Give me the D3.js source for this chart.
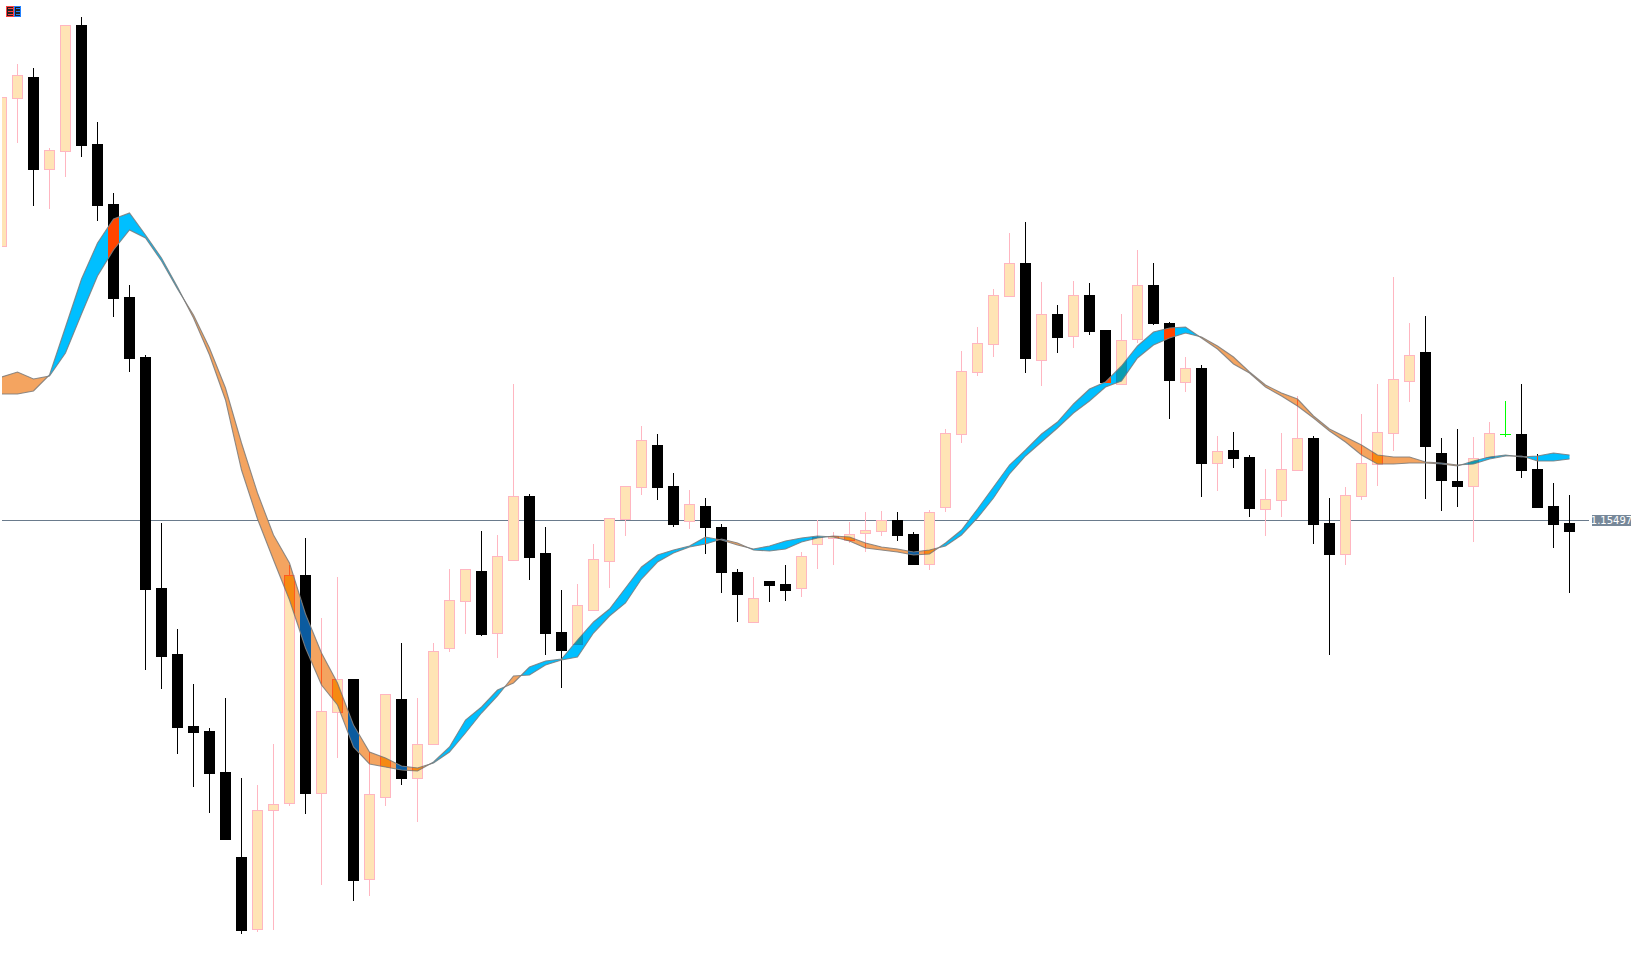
<!DOCTYPE html>
<html><head><meta charset="utf-8">
<script src="https://cdn.jsdelivr.net/npm/d3@7/dist/d3.min.js"></script>
<style>html,body{margin:0;padding:0;background:#fff;overflow:hidden}svg{display:block}</style>
</head><body><div id="chart"></div>
<script>
// Prices in points (1 point = 0.00001)
const open=[115770,115918,115940,115847,115865,115992,115873,115813,115720,115660,115429,115363,115291,115286,115245,115160,115087,115206,115213,115442,115223,115304,115338,115137,115219,115318,115238,115272,115368,115415,115446,115383,115456,115521,115464,115385,115372,115406,115455,115497,115529,115572,115531,115495,115511,115490,115445,115394,115436,115433,115428,115472,115478,115476,115483,115485,115497,115483,115452,115509,115582,115644,115672,115720,115754,115656,115703,115680,115722,115687,115632,115677,115732,115694,115634,115649,115553,115567,115560,115507,115516,115546,115579,115494,115462,115520,115552,115583,115635,115665,115564,115536,115530,115559,115583,115583,115548,115511,115494];
const high=[115920,115953,115949,115869,115992,116000,115895,115824,115732,115662,115494,115388,115333,115289,115319,115239,115232,115273,115452,115479,115399,115440,115338,115265,115323,115374,115319,115374,115448,115448,115486,115482,115633,115523,115490,115427,115433,115473,115499,115531,115591,115583,115544,115527,115519,115493,115448,115440,115436,115452,115465,115497,115485,115495,115505,115506,115505,115485,115507,115588,115666,115690,115728,115784,115795,115735,115712,115736,115734,115687,115703,115767,115754,115695,115660,115652,115581,115585,115562,115548,115584,115621,115581,115519,115530,115603,115633,115740,115694,115701,115579,115588,115580,115595,115616,115633,115563,115534,115522];
const low=[115770,115874,115811,115808,115840,115860,115796,115700,115645,115347,115328,115263,115230,115204,115177,115083,115085,115087,115211,115203,115132,115259,115116,115121,115211,115232,115195,115272,115365,115383,115381,115359,115456,115437,115362,115329,115372,115406,115429,115481,115522,115517,115490,115488,115463,115424,115395,115394,115415,115416,115420,115448,115452,115474,115465,115481,115476,115452,115447,115505,115574,115641,115660,115720,115644,115631,115664,115669,115682,115634,115632,115674,115692,115598,115625,115520,115526,115549,115500,115481,115500,115546,115473,115362,115452,115517,115531,115566,115615,115518,115506,115510,115475,115559,115580,115539,115509,115469,115424];
const close=[115920,115942,115847,115867,115992,115871,115811,115718,115658,115427,115360,115289,115284,115243,115177,115086,115207,115213,115442,115223,115306,115338,115136,115223,115323,115238,115273,115366,115417,115448,115382,115461,115521,115459,115383,115366,115412,115458,115499,115531,115577,115529,115492,115513,115489,115444,115422,115419,115431,115426,115461,115480,115481,115483,115487,115497,115481,115452,115505,115584,115646,115674,115722,115754,115658,115703,115679,115722,115685,115634,115677,115732,115693,115636,115649,115553,115566,115558,115508,115518,115548,115579,115492,115462,115522,115554,115585,115638,115662,115570,115536,115530,115559,115584,115583,115546,115509,115492,115485];
const maFast=[115623,115623,115626,115642,115690,115738,115774,115798,115804,115782,115759,115730,115699,115662,115617,115547,115498,115457,115417,115369,115332,115312,115270,115253,115250,115247,115246,115255,115270,115297,115310,115327,115334,115350,115356,115358,115377,115395,115408,115429,115450,115462,115467,115471,115480,115477,115472,115468,115471,115476,115479,115481,115480,115476,115469,115467,115465,115462,115463,115474,115487,115508,115530,115552,115567,115583,115595,115613,115628,115635,115651,115671,115685,115689,115690,115679,115668,115653,115644,115630,115621,115611,115599,115586,115575,115562,115553,115553,115554,115554,115553,115551,115556,115560,115562,115560,115561,115564,115562];
const maSlow=[115640,115645,115638,115641,115664,115703,115741,115767,115787,115779,115756,115728,115702,115669,115629,115574,115524,115482,115454,115403,115364,115334,115292,115265,115259,115251,115249,115254,115265,115284,115304,115321,115341,115342,115352,115357,115360,115384,115401,115414,115438,115455,115464,115470,115473,115478,115474,115467,115466,115468,115475,115479,115481,115480,115474,115470,115468,115465,115467,115471,115482,115499,115519,115543,115561,115575,115589,115604,115616,115630,115636,115659,115672,115679,115684,115680,115671,115660,115645,115632,115624,115618,115601,115588,115580,115572,115562,115560,115560,115555,115554,115552,115553,115558,115561,115561,115556,115556,115558];
const lastPrice=115497;
const priceTop=116017, priceBottom=115064;

const W=1633,H=953;
const colors={up:"#00BFFF",down:"#F4A460"};
const overlay={
  bear:{up:"#FF4500",down:"#0B5B9F"},
  fill:{up:"#0A9CB0",down:"#F58A12"},
  edge:{up:"#0A8CC4",down:"#FF5A1F"}
};
const bull="#FFE4B5",bullEdge="#FFB6C1",bear="#000",doji="#00FF00",lineCol="#6A7B8C",labelCol="#778899";

const idx=d3.range(open.length);
const x=d3.scaleLinear().domain([0,98]).range([1.5,1569.5]);
const y=d3.scaleLinear().domain([priceTop,priceBottom]).range([0,H]);
const py=v=>Math.round(y(v));

const svg=d3.select("#chart").append("svg").attr("width",W).attr("height",H).attr("viewBox",`0 0 ${W} ${H}`);
const defs=svg.append("defs");
defs.append("clipPath").attr("id","plot").append("rect").attr("x",2).attr("y",0).attr("width",W-2).attr("height",H);
const cBear=defs.append("clipPath").attr("id","cBear");
const cFill=defs.append("clipPath").attr("id","cFill");
const cEdge=defs.append("clipPath").attr("id","cEdge");

const plot=svg.append("g").attr("clip-path","url(#plot)");
// last price line
plot.append("rect").attr("x",2).attr("y",py(lastPrice)).attr("width",1587).attr("height",1).attr("fill",lineCol);

const candles=plot.append("g").attr("shape-rendering","crispEdges");
function addRect(sel,a,b,c,d){sel.append("rect").attr("x",a).attr("y",b).attr("width",c).attr("height",d);}
idx.forEach(i=>{
  const cx=x(i),up=close[i]>open[i],eq=close[i]===open[i];
  const t=py(Math.max(open[i],close[i])),b=py(Math.min(open[i],close[i]));
  const hi=py(high[i]),lo=py(low[i]);
  const col=eq?doji:(up?bullEdge:bear);
  candles.append("rect").attr("x",cx-.5).attr("y",hi).attr("width",1).attr("height",Math.max(1,lo-hi)).attr("fill",col);
  if(eq){
    candles.append("rect").attr("x",cx-5.5).attr("y",t).attr("width",11).attr("height",1).attr("fill",col);
  }else if(up){
    candles.append("rect").attr("x",cx-5).attr("y",t+.5).attr("width",10).attr("height",b-t-1)
      .attr("fill",bull).attr("stroke",bullEdge).attr("stroke-width",1);
    addRect(cFill,cx-5.5,t,11,b-t);
    addRect(cEdge,cx-5.5,t,1,b-t);addRect(cEdge,cx+4.5,t,1,b-t);
    addRect(cEdge,cx-5.5,t,11,1);addRect(cEdge,cx-5.5,b-1,11,1);
    addRect(cEdge,cx-.5,hi,1,t-hi);addRect(cEdge,cx-.5,b,1,lo-b);
  }else{
    candles.append("rect").attr("x",cx-5.5).attr("y",t).attr("width",11).attr("height",b-t).attr("fill",bear);
    addRect(cBear,cx-5.5,t,11,b-t);addRect(cBear,cx-.5,hi,1,lo-hi);
  }
});

// Split the band into runs of same sign, inserting crossing points
const runs=[];let cur=[];
idx.forEach(i=>{
  const pt={i,a:maFast[i],b:maSlow[i]};
  cur.push(pt);
  if(i<idx.length-1){
    const d0=maFast[i]-maSlow[i],d1=maFast[i+1]-maSlow[i+1];
    if(d0*d1<0){
      const t=d0/(d0-d1),v=maFast[i]+t*(maFast[i+1]-maFast[i]);
      const cp={i:i+t,a:v,b:v};
      cur.push(cp);
      runs.push({dir:d0>0?"up":"down",pts:cur});
      cur=[cp];
    }
  }
});
runs.push({dir:maFast[98]>maSlow[98]?"up":"down",pts:cur});

const area=d3.area().x(d=>x(d.i)).y0(d=>y(d.a)).y1(d=>y(d.b));
const lineA=d3.line().x(d=>x(d.i)).y(d=>y(d.a));
const lineB=d3.line().x(d=>x(d.i)).y(d=>y(d.b));

const band=plot.append("g");
function drawBand(palette,clip){
  const g=band.append("g");
  if(clip)g.attr("clip-path",`url(#${clip})`);
  runs.forEach(r=>g.append("path").attr("d",area(r.pts)).attr("fill",palette[r.dir]));
}
drawBand(colors,null);
drawBand(overlay.fill,"cFill");
drawBand(overlay.edge,"cEdge");
drawBand(overlay.bear,"cBear");
const full=idx.map(i=>({i,a:maFast[i],b:maSlow[i]}));
[lineA,lineB].forEach(l=>band.append("path").attr("d",l(full)).attr("fill","none")
  .attr("stroke","#7a7a7a").attr("stroke-width",1.1).attr("stroke-opacity",.85));

// Price label
const ly=py(lastPrice);
svg.append("rect").attr("x",1592).attr("y",ly-5).attr("width",39).attr("height",11).attr("fill",labelCol);
svg.append("text").attr("x",1611.5).attr("y",ly+4).attr("text-anchor","middle")
  .attr("font-family","'DejaVu Sans',sans-serif").attr("font-size",10).attr("fill","#fff")
  .text(d3.format(".5f")(lastPrice/100000));

// Indicator badge, top-left
const icon=svg.append("g").attr("shape-rendering","crispEdges");
[[6,7,"#FF4040"],[14,6,"#2080FF"]].forEach(([ix,w,c])=>{
  icon.append("rect").attr("x",ix+.5).attr("y",6.5).attr("width",w).attr("height",10).attr("fill","#222").attr("stroke",c);
  [8,11,14].forEach(dy=>icon.append("rect").attr("x",ix+2).attr("y",dy).attr("width",w-2).attr("height",1).attr("fill",c));
});
</script></body></html>
